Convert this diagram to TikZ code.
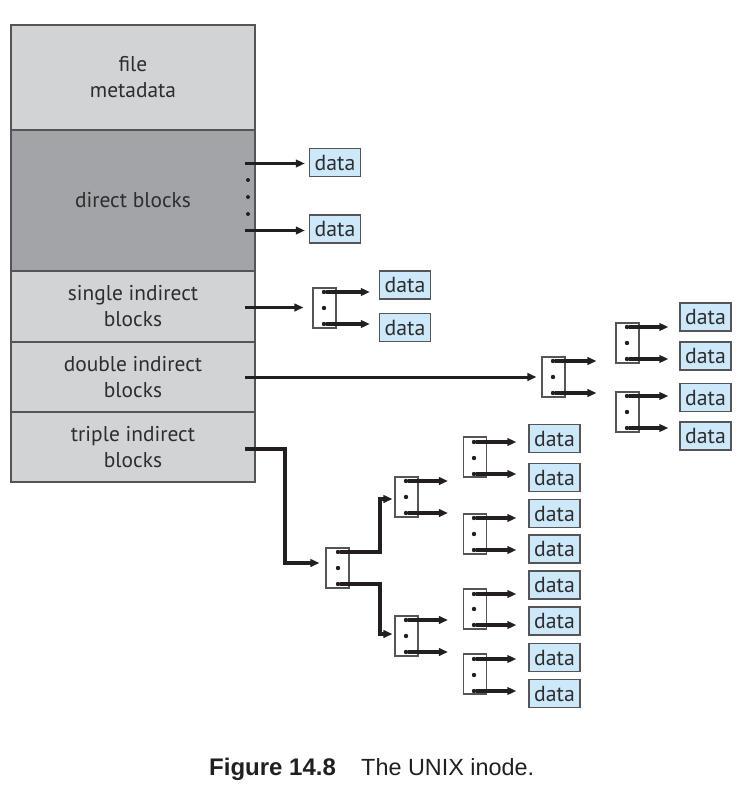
\documentclass[tikz,border=0pt]{standalone}
\usepackage{fontspec}
\setmainfont{PT Sans}
\newfontfamily\capfont{Liberation Sans}
\usetikzlibrary{arrows.meta,calc}
\definecolor{lightrow}{RGB}{209,211,212}
\definecolor{darkrow}{RGB}{163,164,168}
\definecolor{datafill}{RGB}{205,232,249}
\definecolor{ink}{RGB}{35,31,32}
\definecolor{textgray}{RGB}{45,45,47}
\definecolor{edgegray}{RGB}{85,85,88}

\begin{document}
\begin{tikzpicture}[x=1pt,y=-1pt,
  row/.style={draw=edgegray, line width=1.3pt, minimum width=244pt, align=center,
    inner sep=0pt, font=\fontsize{21.4}{26}\selectfont, text=textgray},
  datab/.style={draw=edgegray, fill=datafill, line width=1.3pt, minimum width=51pt,
    minimum height=28pt, inner sep=0pt, font=\fontsize{21.8}{24}\selectfont, text=textgray},
  ptrblk/.style={draw=edgegray, fill=white, line width=1.1pt, minimum width=23pt,
    minimum height=40pt, inner sep=0pt},
  dot/.style={circle, fill=ink, inner sep=0pt, minimum size=4.4pt},
  ptr/.style={draw=ink, line width=3.2pt, -{Triangle[length=9pt,width=7.5pt]}},
  inodearrow/.style={ptr, line width=3pt},
]
\useasboundingbox (0,0) rectangle (746,798);

% ---------------- inode ----------------
\node[row, fill=lightrow, minimum height=105pt] (meta)   at (133,77.5)  {file\\metadata};
\node[row, fill=darkrow,  minimum height=141pt] (direct) at (133,200.5) {direct blocks};
\node[row, fill=lightrow, minimum height=71pt]  (single) at (133,306.5) {single indirect\\blocks};
\node[row, fill=lightrow, minimum height=70pt]  (double) at (133,377)   {double indirect\\blocks};
\node[row, fill=lightrow, minimum height=70pt]  (triple) at (133,447)   {triple indirect\\blocks};

% ---------------- direct blocks ----------------
\node[datab] (d1) at (335,162.5) {data};
\node[datab] (d2) at (335,229)   {data};
\coordinate (da) at (245,163.5);
\coordinate (db) at (245,230.5);
\draw[inodearrow, shorten >=4pt] (da) -- (da -| d1.west);
\draw[inodearrow, shorten >=4pt] (db) -- (db -| d2.west);
\node[dot, minimum size=4pt] (dd1) at (248,180) {};
\node[dot, minimum size=4pt] (dd2) at (248,197) {};
\node[dot, minimum size=4pt] (dd3) at (248,214) {};

% ---------------- single indirect ----------------
\node[ptrblk] (P) at (324.5,308) {};
\node[dot] (Pa) at (324,292) {};
\node[dot] (Pb) at (324,308) {};
\node[dot] (Pc) at (324,324) {};
\node[datab] (s1) at (405,285)   {data};
\node[datab] (s2) at (405,327.5) {data};
\coordinate (sa) at (245,307.5);
\draw[inodearrow, shorten >=9pt] (sa) -- (sa -| P.west);
\draw[ptr, shorten >=9pt] (Pa) -- (Pa -| s1.west);
\draw[ptr, shorten >=9pt] (Pc) -- (Pc -| s2.west);

% ---------------- double indirect ----------------
\node[ptrblk] (Q) at (553.5,377) {};
\node[dot] (Qa) at (553,361) {};
\node[dot] (Qb) at (553,377) {};
\node[dot] (Qc) at (553,393) {};
\node[ptrblk] (Q1) at (627.5,343) {};
\node[dot] (Q1a) at (627,327) {};
\node[dot] (Q1b) at (627,343) {};
\node[dot] (Q1c) at (627,359) {};
\node[ptrblk] (Q2) at (627.5,412) {};
\node[dot] (Q2a) at (627,396) {};
\node[dot] (Q2b) at (627,412) {};
\node[dot] (Q2c) at (627,428) {};
\node[datab] (e1) at (705.5,317)   {data};
\node[datab] (e2) at (705.5,356)   {data};
\node[datab] (e3) at (705.5,397.5) {data};
\node[datab] (e4) at (705.5,436)   {data};
\coordinate (ba) at (245,377);
\draw[inodearrow, shorten >=5pt] (ba) -- (ba -| Q.west);
\draw[ptr, shorten >=19pt] (Qa) -- (Qa -| Q1.west);
\draw[ptr, shorten >=19pt] (Qc) -- (Qc -| Q2.west);
\draw[ptr, shorten >=11pt] (Q1a) -- (Q1a -| e1.west);
\draw[ptr, shorten >=11pt] (Q1c) -- (Q1c -| e2.west);
\draw[ptr, shorten >=11pt] (Q2a) -- (Q2a -| e3.west);
\draw[ptr, shorten >=11pt] (Q2c) -- (Q2c -| e4.west);

% ---------------- triple indirect ----------------
\node[ptrblk] (T) at (337.5,568) {};
\node[dot] (Ta) at (338,552) {};
\node[dot] (Tb) at (338,568) {};
\node[dot] (Tc) at (338,584) {};
\node[ptrblk] (T1) at (406.5,497) {};
\node[dot] (T1a) at (406,481) {};
\node[dot] (T1b) at (406,497) {};
\node[dot] (T1c) at (406,513) {};
\node[ptrblk] (T2) at (406.5,636) {};
\node[dot] (T2a) at (406,620) {};
\node[dot] (T2b) at (406,636) {};
\node[dot] (T2c) at (406,652) {};
\node[ptrblk] (U1) at (475,457) {};
\node[dot] (U1a) at (474,442) {};
\node[dot] (U1b) at (474,458) {};
\node[dot] (U1c) at (474,474) {};
\node[ptrblk] (U2) at (475,534) {};
\node[dot] (U2a) at (474,518) {};
\node[dot] (U2b) at (474,534) {};
\node[dot] (U2c) at (474,550) {};
\node[ptrblk] (U3) at (475,609) {};
\node[dot] (U3a) at (474,594) {};
\node[dot] (U3b) at (474,609) {};
\node[dot] (U3c) at (474,625) {};
\node[ptrblk] (U4) at (475,674) {};
\node[dot] (U4a) at (474,659) {};
\node[dot] (U4b) at (474,675) {};
\node[dot] (U4c) at (474,691) {};
\node[datab] (f1) at (554.5,438.5) {data};
\node[datab] (f2) at (554.5,477.5) {data};
\node[datab] (f3) at (554.5,513.5) {data};
\node[datab] (f4) at (554.5,549)   {data};
\node[datab] (f5) at (554.5,585)   {data};
\node[datab] (f6) at (554.5,621)   {data};
\node[datab] (f7) at (554.5,657.5) {data};
\node[datab] (f8) at (554.5,693.5) {data};

\coordinate (ta) at (245,449);
\coordinate (tk) at (285,563);
\draw[ptr, shorten >=6pt] (ta) -| (tk) -- (tk -| T.west);
\coordinate (tu) at (380,499);
\coordinate (tl) at (380,634);
\draw[ptr, shorten >=2pt] (Ta) -| (tu) -- (tu -| T1.west);
\draw[ptr, shorten >=2pt] (Tc) -| (tl) -- (tl -| T2.west);
\draw[ptr, shorten >=15pt] (T1a) -- (T1a -| U1.west);
\draw[ptr, shorten >=15pt] (T1c) -- (T1c -| U1.west);
\draw[ptr, shorten >=15pt] (T2a) -- (T2a -| U3.west);
\draw[ptr, shorten >=15pt] (T2c) -- (T2c -| U3.west);
\draw[ptr, shorten >=12pt] (U1a) -- (U1a -| f1.west);
\draw[ptr, shorten >=12pt] (U1c) -- (U1c -| f2.west);
\draw[ptr, shorten >=12pt] (U2a) -- (U2a -| f3.west);
\draw[ptr, shorten >=12pt] (U2c) -- (U2c -| f4.west);
\draw[ptr, shorten >=12pt] (U3a) -- (U3a -| f5.west);
\draw[ptr, shorten >=12pt] (U3c) -- (U3c -| f6.west);
\draw[ptr, shorten >=12pt] (U4a) -- (U4a -| f7.west);
\draw[ptr, shorten >=12pt] (U4c) -- (U4c -| f8.west);

% ---------------- caption ----------------
\node[anchor=base west, inner sep=0pt, text=ink,
  font=\capfont\bfseries\fontsize{24}{28}\selectfont] (fig) at (209,775) {Figure 14.8};
\node[anchor=base west, inner sep=0pt, text=ink,
  font=\capfont\fontsize{23.4}{28}\selectfont] (cap) at (361,775) {The UNIX inode.};
\end{tikzpicture}
\end{document}
